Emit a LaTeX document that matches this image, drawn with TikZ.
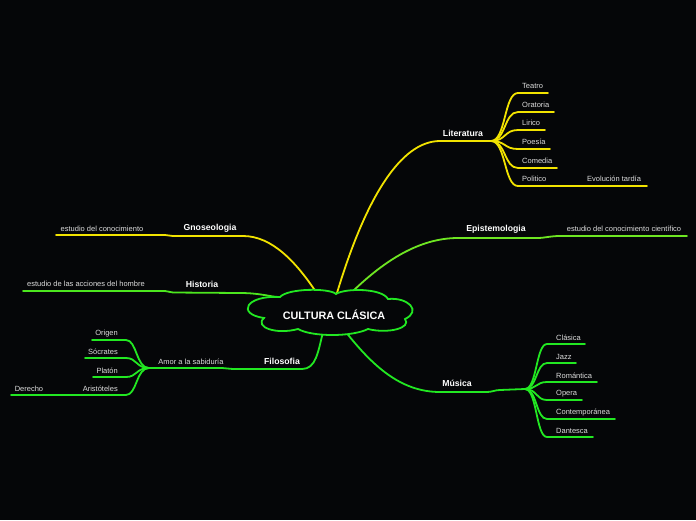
\documentclass[tikz,border=0pt]{standalone}
\usepackage{fontspec}
\setmainfont{Liberation Sans}
\definecolor{bgc}{HTML}{050608}
\definecolor{ylw}{HTML}{F2E300}
\definecolor{grn}{HTML}{22E822}
\definecolor{lime}{HTML}{6EE622}
\definecolor{hist}{HTML}{4CE61E}
\definecolor{txtg}{HTML}{DDDDDD}
\begin{document}
\begin{tikzpicture}[x=1pt,y=-1pt,
  mainlbl/.style={text=white,font=\bfseries\fontsize{8.7}{10}\selectfont,inner sep=0pt},
  sublbl/.style={text=txtg,font=\fontsize{7.5}{9}\selectfont,inner sep=0pt},
  yline/.style={draw=ylw,line width=1.8pt,line cap=round},
  gline/.style={draw=grn,line width=1.8pt,line cap=round},
  lline/.style={draw=lime,line width=1.8pt,line cap=round},
  hline/.style={draw=hist,line width=1.8pt,line cap=round}]
\fill[bgc] (0,0) rectangle (696,520);
\useasboundingbox (0,0) rectangle (696,520);

% ---------- connectors first (under the cloud) ----------
\coordinate (cG) at (316,292);
\coordinate (cL) at (337,293);
\coordinate (cE) at (352,292);
\coordinate (cH) at (281,298);
\coordinate (cF) at (323,332);
\coordinate (cM) at (345,331);

% Gnoseologia
\coordinate (g1) at (243,236);
\coordinate (g2) at (173,236);
\coordinate (g3) at (165,235);
\coordinate (g4) at (56,235);
\draw[yline] (cG) .. controls (296,262) and (272,236) .. (g1) -- (g2) -- (g3) -- (g4);
\node[mainlbl] (gno) at (210,228) {Gnoseologia};
\node[sublbl] (gnos) at (102,229) {estudio del conocimiento};

% Historia
\coordinate (h1) at (240,293);
\coordinate (h2) at (173,292.5);
\coordinate (h3) at (165,291);
\coordinate (h4) at (23,291);
\draw[hline] (cH) .. controls (265,295) and (255,293) .. (h1) -- (h2) -- (h3) -- (h4);
\node[mainlbl] (his) at (202,284) {Historia};
\node[sublbl] (hiss) at (86,284) {estudio de las acciones del hombre};

% Literatura
\coordinate (l1) at (440,141);
\coordinate (lf) at (491,141);
\draw[yline] (cL) .. controls (365,200) and (400,141) .. (l1) -- (lf);
\node[mainlbl] (lit) at (463,133) {Literatura};
\foreach \y/\e/\n/\t in {93/548/lt/Teatro,112/554/lo/Oratoria,130/545/ll/Lirico,149/550/lp/Poesía,168/557/lc/Comedia,186/583/lpo/Politico}{
  \coordinate (\n a) at (518,\y);
  \coordinate (\n b) at (\e,\y);
  \draw[yline] (lf) .. controls (506,141) and (504,\y) .. (\n a) -- (\n b);
  \node[sublbl,anchor=west] (\n) at (522,\y-7) {\t};
}
\coordinate (lpoc) at (647,186);
\draw[yline] (lpob) -- (lpoc);
\node[sublbl,anchor=west] (evo) at (587,179) {Evolución tardía};

% Epistemologia
\coordinate (e1) at (458,238);
\coordinate (e2) at (537,238);
\coordinate (e3) at (560,236);
\coordinate (e4) at (687,236);
\draw[lline] (cE) .. controls (385,260) and (420,238) .. (e1) -- (e2) .. controls (545,238) and (550,236) .. (e3) -- (e4);
\node[mainlbl] (epi) at (496,229) {Epistemologia};
\node[sublbl] (epis) at (624,229) {estudio del conocimiento científico};

% Filosofia
\coordinate (f1) at (302,369);
\coordinate (f2) at (233,369);
\coordinate (f3) at (222,368);
\coordinate (ff) at (149,368);
\draw[gline] (cF) .. controls (318,352) and (316,369) .. (f1) -- (f2) -- (f3) -- (ff);
\node[mainlbl] (fil) at (282,361) {Filosofia};
\node[sublbl] (amor) at (191,362) {Amor a la sabiduría};
\foreach \y/\e/\n/\t in {340/92/fo/Origen,358/85/fs/Sócrates,377/93/fp/Platón,395/83/fa/Aristóteles}{
  \coordinate (\n a) at (126,\y);
  \coordinate (\n b) at (\e,\y);
  \draw[gline] (ff) .. controls (136,368) and (137,\y) .. (\n a) -- (\n b);
  \node[sublbl,anchor=east] (\n) at (118,\y-6.5) {\t};
}
\coordinate (fac) at (11,395);
\draw[gline] (fab) -- (fac);
\node[sublbl] (der) at (29,389) {Derecho};

% Musica
\coordinate (m1) at (440,392);
\coordinate (m2) at (487,392);
\coordinate (m3) at (500,390);
\coordinate (mf) at (525,389);
\draw[gline] (cM) .. controls (372,365) and (400,392) .. (m1) -- (m2) .. controls (492,392) and (495,390) .. (m3) -- (mf);
\node[mainlbl] (mus) at (457,383) {Música};
\foreach \y/\e/\n/\t in {344/585/mc/Clásica,363/576/mj/Jazz,382/597/mr/Romántica,400/582/mo/Opera,419/615/mt/Contemporánea,437/593/md/Dantesca}{
  \coordinate (\n a) at (547,\y);
  \coordinate (\n b) at (\e,\y);
  \draw[gline] (mf) .. controls (537,389) and (536,\y) .. (\n a) -- (\n b);
  \node[sublbl,anchor=west] (\n) at (556,\y-6.5) {\t};
}

% ---------- central cloud ----------
\draw[grn,line width=1.8pt,fill=bgc]
  (280,297) .. controls (288,288) and (330,288) .. (336,294)
  .. controls (345,288) and (382,288) .. (388,299)
  .. controls (408,297) and (422,311) .. (405,319)
  .. controls (412,328) and (388,334) .. (368,329)
  .. controls (352,337) and (312,337) .. (298,329)
  .. controls (276,335) and (254,327) .. (264,318)
  .. controls (236,314) and (246,295) .. (280,297) -- cycle;
\node[text=white,font=\bfseries\fontsize{10.8}{12}\selectfont,inner sep=0pt] (root) at (334,315) {CULTURA CLÁSICA};
\end{tikzpicture}
\end{document}
